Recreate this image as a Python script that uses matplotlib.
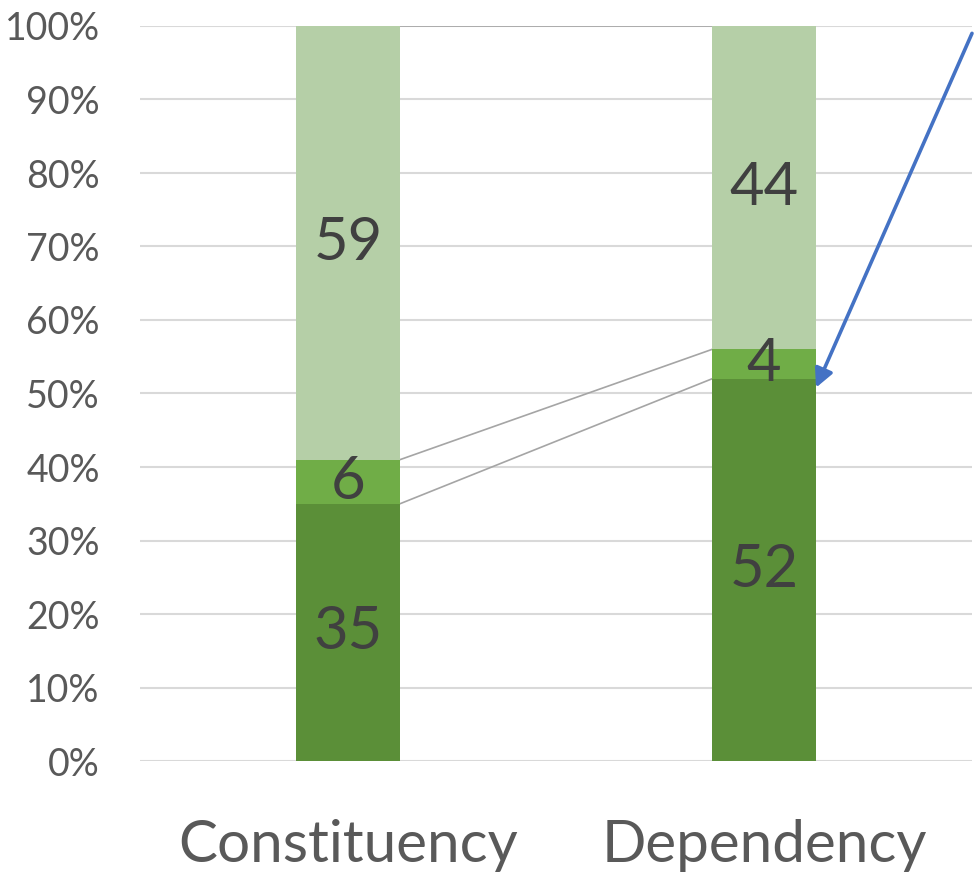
import numpy as np
import matplotlib.pyplot as plt
from matplotlib.ticker import PercentFormatter

plt.rcParams['font.family'] = ['Lato', 'DejaVu Sans']

categories = ["Constituency", "Dependency"]
dark = [35, 52]
mid = [6, 4]
light = [59, 44]

colors = ["#5B8F38", "#70AD47", "#B5CFA7"]
width = 0.25

fig = plt.figure(figsize = (9.74, 8.72), dpi = 100)
ax = fig.add_axes([140 / 974, 111 / 872, 832 / 974, 735 / 872])

x = np.arange(len(categories))
bottom = np.zeros(len(categories))
for vals, c in zip([dark, mid, light], colors):
    vals = np.array(vals, dtype = float)
    ax.bar(x, vals, width, bottom = bottom, color = c, zorder = 3)
    for xi, b, v in zip(x, bottom, vals):
        ax.text(xi, b + v / 2, str(int(v)), ha = 'center', va = 'center',
                fontsize = 43, color = '#404040', zorder = 5)
    bottom += vals

# series lines between the two bars
cum = np.cumsum([dark, mid, light], axis = 0)
for level in cum:
    ax.plot([x[0] + width / 2, x[1] - width / 2], level, color = '#A5A5A5',
            lw = 1.2, zorder = 2)

# arrow pointing at the top of the dark segment of the second bar
ax.annotate("", xy = (x[1] + width / 2, dark[1] - 1.2), xytext = (1.5, 99),
            arrowprops = dict(arrowstyle = '-|>', color = '#4472C4', lw = 2.6,
                              mutation_scale = 28, shrinkA = 0, shrinkB = 0),
            zorder = 6, annotation_clip = False)

ax.set_xlim(-0.5, 1.5)
ax.set_ylim(0, 100)
ax.set_yticks(np.arange(0, 101, 10))
ax.yaxis.set_major_formatter(PercentFormatter(decimals = 0))
ax.set_xticks(x)
ax.set_xticklabels(categories)
ax.grid(axis = 'y', color = '#D9D9D9', lw = 1.5, zorder = 0)
for s in ax.spines.values():
    s.set_visible(False)
ax.tick_params(axis = 'y', length = 0, pad = 29, labelsize = 27, labelcolor = '#595959')
ax.tick_params(axis = 'x', length = 0, pad = 42, labelsize = 42, labelcolor = '#595959')

plt.savefig("out.png")
